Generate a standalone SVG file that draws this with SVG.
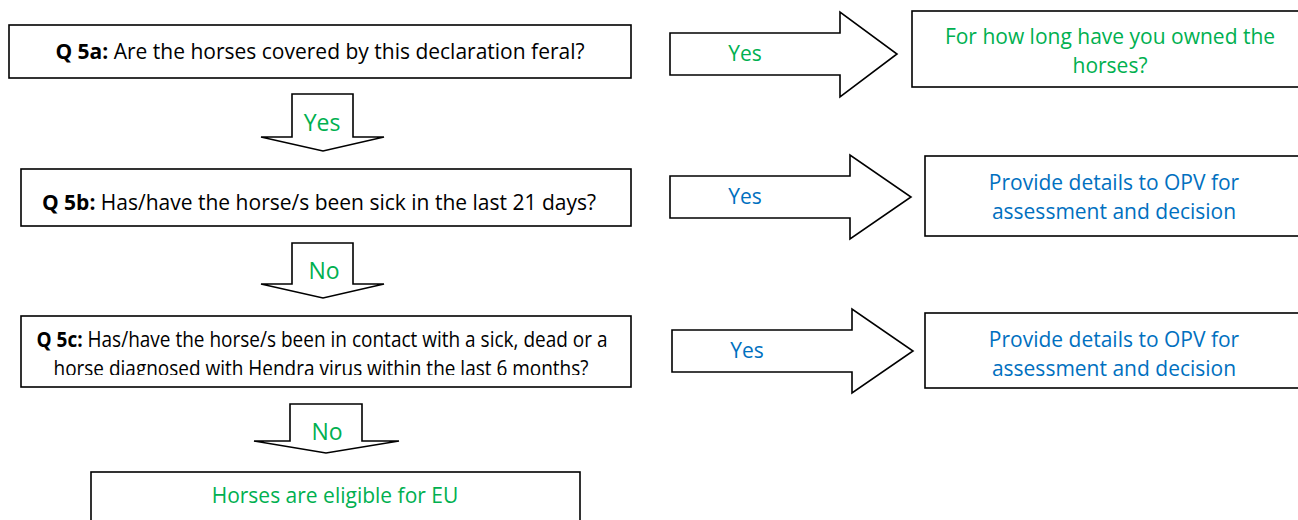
<svg xmlns="http://www.w3.org/2000/svg" width="1298" height="520" viewBox="0 0 1298 520">
<style>
.box{fill:#fff;stroke:#000;stroke-width:1.6}
.arr{fill:#fff;stroke:#000;stroke-width:1.6;stroke-linejoin:miter}
.t{font-family:"Open Sans","Noto Sans","Liberation Sans",sans-serif;font-size:21px;text-anchor:middle}
.q{fill:#000}
.b{font-weight:bold}
.g{fill:#00B050}
.bl{fill:#0070C0}
.lbl{font-size:23px}
</style>
<defs>
<clipPath id="clip5c"><rect x="0" y="300" width="660" height="75"/></clipPath>
</defs>
<g id="connectors">
<g id="a-5a-yes-right">
<polygon class="arr" points="670,33 840,33 840,12 897,54 840,97 840,75 670,75"/>
<text class="t g" x="745" y="61">Yes</text>
</g>
<g id="a-5b-yes-right">
<polygon class="arr" points="670,176 850,176 850,155 911,197 850,239 850,218 670,218"/>
<text class="t bl" x="745" y="204">Yes</text>
</g>
<g id="a-5c-yes-right">
<polygon class="arr" points="672,330 852,330 852,309 913,351 852,393 852,372 672,372"/>
<text class="t bl" x="747" y="358">Yes</text>
</g>
<g id="a-5a-yes-down">
<polygon class="arr" points="292,94 353,94 353,137 384,137 323,151 261,137 292,137"/>
<text class="t lbl g" x="322" y="131">Yes</text>
</g>
<g id="a-5b-no-down">
<polygon class="arr" points="292,243 353,243 353,284 384,284 323,298 261,284 292,284"/>
<text class="t lbl g" x="324" y="279">No</text>
</g>
<g id="a-5c-no-down">
<polygon class="arr" points="290,404 362,404 362,441 399,441 326,453 254,441 290,441"/>
<text class="t lbl g" x="327" y="440">No</text>
</g>
</g>
<g id="q5a">
<rect class="box" x="9" y="25" width="622" height="53"/>
<text class="t q" x="320" y="59"><tspan class="b">Q 5a:</tspan> Are the horses covered by this declaration feral?</text>
</g>
<g id="q5b">
<rect class="box" x="21" y="169" width="610" height="57"/>
<text class="t q" x="319" y="210"><tspan class="b">Q 5b:</tspan> Has/have the horse/s been sick in the last 21 days?</text>
</g>
<g id="q5c">
<rect class="box" x="21" y="316" width="610" height="71"/>
<g clip-path="url(#clip5c)">
<text class="t q" x="322" y="347" textLength="571" lengthAdjust="spacingAndGlyphs"><tspan class="b">Q 5c:</tspan> Has/have the horse/s been in contact with a sick, dead or a</text>
<text class="t q" x="321" y="376" textLength="535" lengthAdjust="spacingAndGlyphs">horse diagnosed with Hendra virus within the last 6 months?</text>
</g>
</g>
<g id="eligible">
<rect class="box" x="91" y="472" width="489" height="60"/>
<text class="t g" x="335" y="503">Horses are eligible for EU</text>
</g>
<g id="owned">
<rect class="box" x="912" y="11" width="400" height="76"/>
<text class="t g" x="1110" y="44">For how long have you owned the</text>
<text class="t g" x="1110" y="73">horses?</text>
</g>
<g id="opv1">
<rect class="box" x="925" y="156" width="400" height="80"/>
<text class="t bl" x="1114" y="190">Provide details to OPV for</text>
<text class="t bl" x="1114" y="219">assessment and decision</text>
</g>
<g id="opv2">
<rect class="box" x="925" y="313" width="400" height="75"/>
<text class="t bl" x="1114" y="347">Provide details to OPV for</text>
<text class="t bl" x="1114" y="376">assessment and decision</text>
</g>
</svg>
